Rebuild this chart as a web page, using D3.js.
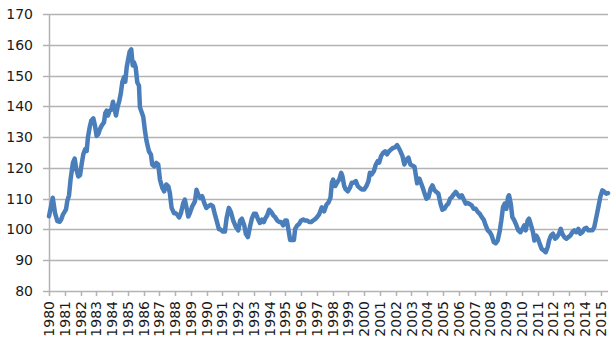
<!DOCTYPE html>
<html>
<head>
<meta charset="utf-8">
<script src="https://cdn.jsdelivr.net/npm/d3@7"></script>
<style>
  html, body { margin: 0; padding: 0; background: #fff; }
  svg { display: block; }
  text { font-family: "DejaVu Sans", sans-serif; fill: #1a1a1a; }
</style>
</head>
<body>
<svg id="chart" width="615" height="345"></svg>
<script>
// Decimal-year positions of the points
const dates = [
  1980.00,1980.24,1980.38,1980.53,1980.68,1980.78,1980.89,1980.99,1981.08,1981.16,
  1981.27,1981.37,1981.52,1981.63,1981.73,1981.86,1981.97,1982.07,1982.18,1982.30,
  1982.39,1982.47,1982.58,1982.68,1982.81,1982.92,1983.02,1983.13,1983.23,1983.36,
  1983.49,1983.57,1983.66,1983.74,1983.85,1983.95,1984.06,1984.16,1984.25,1984.35,
  1984.46,1984.55,1984.65,1984.76,1984.84,1984.93,1985.01,1985.12,1985.22,1985.31,
  1985.39,1985.50,1985.60,1985.71,1985.77,1985.98,1986.09,1986.19,1986.34,1986.47,
  1986.55,1986.68,1986.81,1986.93,1987.04,1987.19,1987.31,1987.44,1987.57,1987.67,
  1987.78,1987.93,1988.03,1988.14,1988.26,1988.37,1988.52,1988.62,1988.73,1988.84,
  1988.94,1989.09,1989.26,1989.36,1989.47,1989.60,1989.72,1989.85,1989.98,1990.10,
  1990.27,1990.40,1990.53,1990.65,1990.78,1990.91,1991.03,1991.16,1991.27,1991.41,
  1991.54,1991.69,1991.86,1992.01,1992.13,1992.24,1992.39,1992.49,1992.62,1992.75,
  1992.87,1993.00,1993.13,1993.25,1993.38,1993.51,1993.63,1993.72,1993.85,1993.97,
  1994.10,1994.23,1994.35,1994.48,1994.61,1994.73,1994.86,1994.99,1995.09,1995.20,
  1995.30,1995.41,1995.54,1995.62,1995.75,1995.87,1996.00,1996.13,1996.25,1996.38,
  1996.51,1996.64,1996.76,1996.93,1997.14,1997.31,1997.46,1997.61,1997.73,1997.86,
  1997.95,1998.03,1998.16,1998.28,1998.41,1998.54,1998.62,1998.73,1998.83,1998.96,
  1999.09,1999.21,1999.34,1999.47,1999.59,1999.72,1999.85,2000.00,2000.14,2000.27,
  2000.36,2000.48,2000.61,2000.74,2000.86,2000.95,2001.07,2001.20,2001.33,2001.45,
  2001.58,2001.71,2001.84,2001.96,2002.09,2002.17,2002.30,2002.43,2002.55,2002.68,
  2002.81,2002.93,2003.19,2003.36,2003.50,2003.70,2003.80,2003.95,2004.08,2004.22,
  2004.33,2004.46,2004.58,2004.71,2004.84,2004.96,2005.09,2005.22,2005.34,2005.45,
  2005.56,2005.68,2005.81,2005.92,2006.06,2006.19,2006.34,2006.44,2006.57,2006.70,
  2006.82,2006.95,2007.08,2007.20,2007.33,2007.46,2007.58,2007.71,2007.84,2007.97,
  2008.09,2008.22,2008.35,2008.47,2008.60,2008.70,2008.81,2008.92,2009.02,2009.13,
  2009.19,2009.30,2009.40,2009.53,2009.66,2009.78,2009.91,2010.04,2010.16,2010.25,
  2010.37,2010.46,2010.59,2010.71,2010.80,2010.92,2011.03,2011.14,2011.26,2011.39,
  2011.52,2011.64,2011.73,2011.85,2011.98,2012.11,2012.23,2012.36,2012.47,2012.57,
  2012.70,2012.83,2012.95,2013.08,2013.21,2013.33,2013.46,2013.59,2013.71,2013.84,
  2013.97,2014.10,2014.22,2014.35,2014.48,2014.60,2014.73,2014.86,2014.98,2015.11,
  2015.24,2015.36,2015.47
];
const values = [
  104.3,110.3,105.4,102.7,102.5,103.3,104.9,105.7,106.5,109.2,
  111.1,116.3,121.7,123.0,119.6,117.2,117.6,121.2,124.5,126.1,
  125.5,129.9,133.2,135.3,136.1,133.7,130.4,131.0,132.6,133.9,
  134.8,137.8,138.6,137.0,138.6,138.9,141.5,139.1,137.0,139.7,
  141.8,144.0,147.8,149.5,148.0,152.7,154.9,157.8,158.5,153.3,
  154.3,152.7,147.8,146.7,139.7,136.6,132.0,128.7,125.4,124.3,
  121.1,120.5,121.6,121.1,116.2,113.5,112.4,114.6,114.0,111.8,
  107.0,105.3,105.3,104.8,103.9,105.3,108.6,109.7,107.0,104.2,
  105.3,107.5,109.1,112.9,111.3,110.2,110.8,108.6,107.0,107.5,
  108.0,107.5,104.8,102.6,100.1,99.9,99.3,99.3,103.7,107.0,
  105.7,102.9,100.8,99.7,102.9,103.5,101.3,98.6,97.5,100.8,
  103.5,105.1,105.1,103.5,102.1,103.2,102.4,103.5,104.6,106.4,
  105.7,104.6,104.0,102.9,102.4,102.4,101.3,102.9,102.9,99.7,
  96.6,96.6,96.6,100.2,101.3,101.8,102.9,103.2,102.9,102.9,
  102.4,102.4,102.9,103.5,104.9,107.2,105.9,108.1,108.7,110.3,
  115.2,116.2,114.1,115.2,116.2,118.4,117.3,114.1,113.0,112.4,
  113.5,115.2,115.2,115.7,114.1,113.5,113.0,113.0,114.1,115.7,
  118.4,117.9,118.9,121.1,122.2,121.7,123.8,124.9,125.4,124.4,
  125.4,126.0,126.5,126.7,127.4,126.7,125.4,123.8,121.1,122.7,
  123.3,121.1,120.4,115.0,116.5,113.8,112.2,110.0,110.5,113.3,
  114.3,112.7,112.2,111.6,108.4,106.4,106.7,107.8,108.4,110.0,
  110.5,111.4,112.2,111.4,110.5,111.1,109.5,108.4,108.6,108.2,
  107.8,106.7,106.7,105.7,105.1,104.0,103.2,101.3,99.7,99.1,
  98.0,95.9,95.5,96.4,99.5,102.9,107.3,108.4,106.7,110.5,
  111.1,108.4,104.0,102.9,101.3,99.7,99.1,100.2,101.3,99.7,
  102.9,103.5,101.3,99.1,96.4,98.0,97.0,95.3,93.7,93.2,
  92.6,94.2,96.4,98.0,98.6,97.0,97.5,98.6,100.2,98.6,
  97.5,97.0,97.5,98.0,99.1,99.7,99.1,100.2,98.6,99.1,
  100.2,100.5,99.7,99.7,99.7,100.8,104.0,107.3,110.5,112.7,
  112.2,111.6,111.8
];
const yearTicks = d3.range(1980, 2016);           // 1980 … 2015
const valueTicks = [80, 90, 100, 110, 120, 130, 140, 150, 160, 170];

const svg = d3.select("#chart");
const margin = { left: 49, right: 7, top: 14, bottom: 54 };
const W = 615, H = 345;

const x = d3.scaleLinear()
  .domain([dates[0], dates[dates.length - 1]])
  .range([margin.left, W - margin.right]);
const y = d3.scaleLinear()
  .domain([valueTicks[0], valueTicks[valueTicks.length - 1]])
  .range([H - margin.bottom, margin.top]);

// horizontal gridlines (with outward tick extension)
svg.append("g")
  .selectAll("line")
  .data(valueTicks)
  .join("line")
  .attr("x1", margin.left - 6)
  .attr("x2", x.range()[1])
  .attr("y1", d => Math.round(y(d)) + 0.5)
  .attr("y2", d => Math.round(y(d)) + 0.5)
  .attr("stroke", "#b3b3b3")
  .attr("stroke-width", 1.5);

// vertical axis line
svg.append("line")
  .attr("x1", margin.left + 0.5).attr("x2", margin.left + 0.5)
  .attr("y1", y.range()[1]).attr("y2", y.range()[0])
  .attr("stroke", "#b3b3b3").attr("stroke-width", 1.5);

// y labels
svg.append("g")
  .selectAll("text")
  .data(valueTicks)
  .join("text")
  .attr("x", 33)
  .attr("y", d => y(d))
  .attr("dy", "0.36em")
  .attr("text-anchor", "end")
  .style("font-size", "14px")
  .text(d => d);

// x ticks
svg.append("g")
  .selectAll("line")
  .data(yearTicks)
  .join("line")
  .attr("x1", d => Math.round(x(d)) + 0.5)
  .attr("x2", d => Math.round(x(d)) + 0.5)
  .attr("y1", y.range()[0])
  .attr("y2", y.range()[0] + 5)
  .attr("stroke", "#b3b3b3")
  .attr("stroke-width", 1.5);

// x labels (rotated)
svg.append("g")
  .selectAll("text")
  .data(yearTicks)
  .join("text")
  .attr("transform", d => `translate(${x(d)},${y.range()[0] + 10}) rotate(-90)`)
  .attr("dy", "0.36em")
  .attr("text-anchor", "end")
  .style("font-size", "14px")
  .text(d => d);

// data line
const pts = dates.map((d, i) => [d, values[i]]);
svg.append("path")
  .datum(pts)
  .attr("fill", "none")
  .attr("stroke", "#4a7ebb")
  .attr("stroke-width", 4.5)
  .attr("stroke-linejoin", "round")
  .attr("stroke-linecap", "round")
  .attr("d", d3.line().x(d => x(d[0])).y(d => y(d[1])));
</script>
</body>
</html>
